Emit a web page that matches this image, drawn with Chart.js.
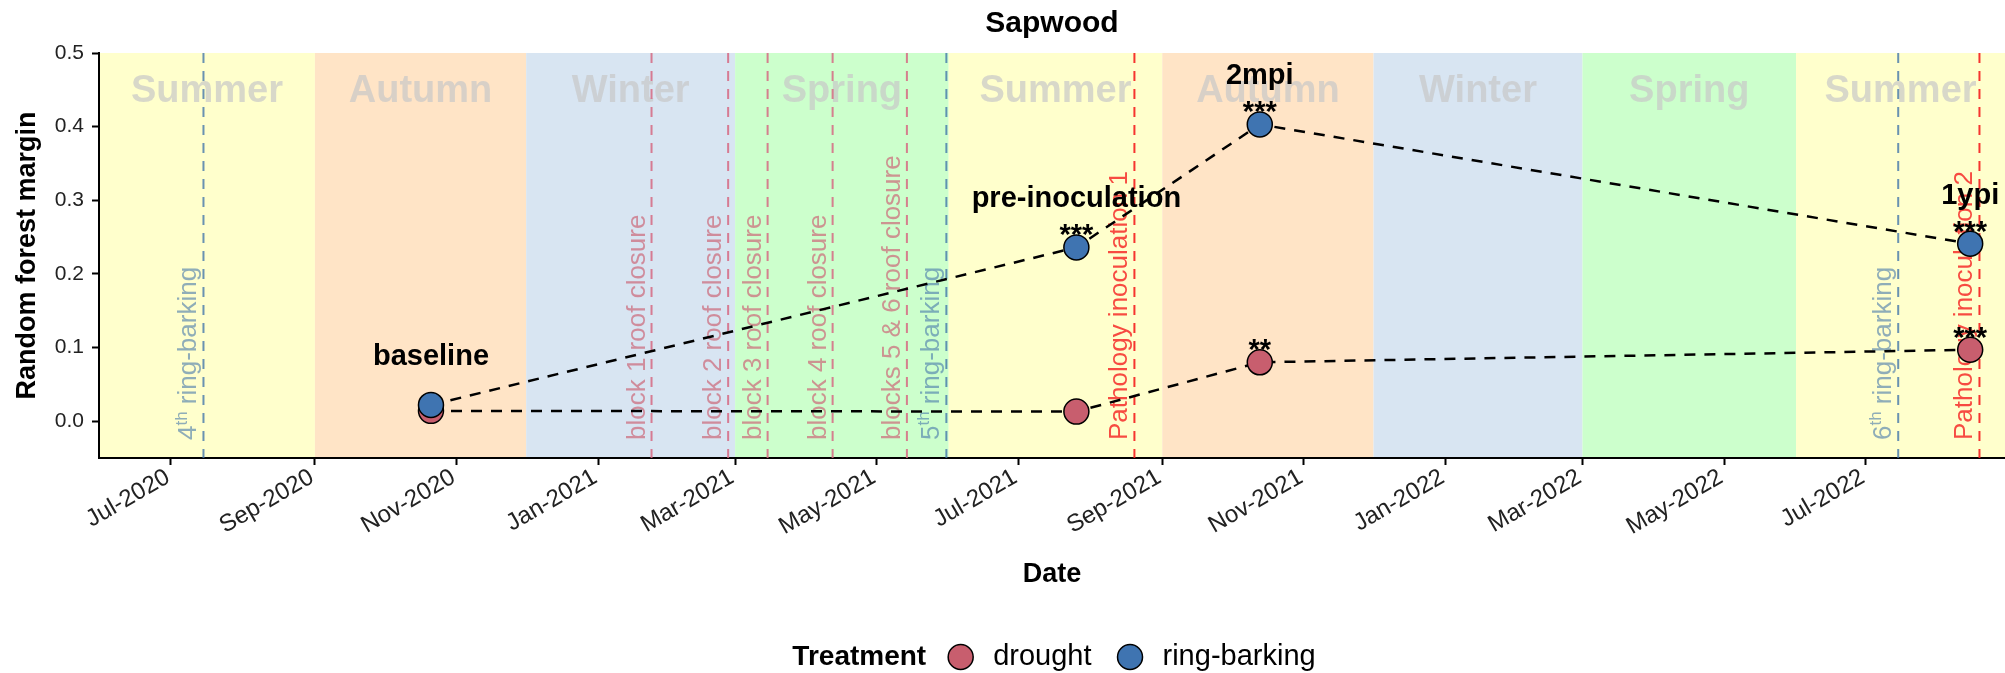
<!DOCTYPE html>
<html>
<head>
<meta charset="utf-8">
<title>Sapwood</title>
<script src="https://cdn.jsdelivr.net/npm/chart.js@4.4.1/dist/chart.umd.min.js"></script>
<style>
  html, body { margin: 0; padding: 0; background: #fff; overflow: hidden; }
  #chart { display: block; }
</style>
</head>
<body>
<canvas id="chart" width="2005" height="673"></canvas>
<script>
// sampling dates and the two treatment series
const timepoints = ['2020-10-21', '2021-07-26', '2021-10-13', '2022-08-15'];
const timepointLabels = ['baseline', 'pre-inoculation', '2mpi', '1ypi'];
const treatments = ['drought', 'ring-barking'];
const droughtMargin = [0.014, 0.013, 0.080, 0.097];
const ringBarkingMargin = [0.022, 0.236, 0.403, 0.241];
const droughtStars = ['', '', '**', '***'];
const ringBarkingStars = ['', '***', '***', '***'];

// seasons shaded behind the panel
const seasonNames = ['Summer', 'Autumn', 'Winter', 'Spring', 'Summer', 'Autumn', 'Winter', 'Spring', 'Summer'];
const seasonStarts = ['2020-06-01', '2020-09-01', '2020-12-01', '2021-03-01', '2021-06-01',
                      '2021-09-01', '2021-12-01', '2022-03-01', '2022-06-01'];

// experiment events (dashed vertical lines)
const eventDates = ['2020-07-15', '2021-01-24', '2021-02-26', '2021-03-15', '2021-04-12',
                    '2021-05-14', '2021-05-31', '2021-08-20', '2022-07-15', '2022-08-19'];
const eventLabels = ['4th ring-barking', 'block 1 roof closure', 'block 2 roof closure', 'block 3 roof closure',
                     'block 4 roof closure', 'blocks 5 & 6 roof closure', '5th ring-barking',
                     'Pathology inoculation 1', '6th ring-barking', 'Pathology inoculation 2'];
const eventKinds = ['ring', 'roof', 'roof', 'roof', 'roof', 'roof', 'ring', 'pathology', 'ring', 'pathology'];

// axes
const xRange = ['2020-05-31', '2022-08-30'];
const xTickDates = ['2020-07-01', '2020-09-01', '2020-11-01', '2021-01-01', '2021-03-01', '2021-05-01', '2021-07-01',
                    '2021-09-01', '2021-11-01', '2022-01-01', '2022-03-01', '2022-05-01', '2022-07-01'];
const monthNames = ['Jan', 'Feb', 'Mar', 'Apr', 'May', 'Jun', 'Jul', 'Aug', 'Sep', 'Oct', 'Nov', 'Dec'];
const yRange = [-0.05, 0.5];
const yTicks = [0, 0.1, 0.2, 0.3, 0.4, 0.5];

const FONT = "'Liberation Sans', Arial, Helvetica, sans-serif";
const day = s => Date.parse(s);

const seasonFill = { Summer: '#FFFFCC', Autumn: '#FFE4C6', Winter: '#D8E5F2', Spring: '#CCFFCC' };
const eventStyle = {
    ring: { line: 'rgba(68,119,170,0.8)', text: 'rgba(68,119,170,0.6)' },
    roof: { line: 'rgba(214,104,130,0.85)', text: 'rgba(204,102,119,0.7)' },
    pathology: { line: 'rgba(245,30,30,0.9)', text: 'rgba(245,30,30,0.8)' }
};
const pointFill = { 'drought': '#C85E6E', 'ring-barking': '#3F74B1' };

function fmtMonth(v) {
    const d = new Date(v);
    return monthNames[d.getUTCMonth()] + '-' + d.getUTCFullYear();
}

function series(values) {
    return timepoints.map((t, i) => ({ x: day(t), y: values[i] }));
}

// "4th ring-barking" -> superscript ordinal
function drawEventText(ctx, text, size) {
    const m = text.match(/^(\d+)(st|nd|rd|th)(.*)$/);
    ctx.font = size + 'px ' + FONT;
    if (!m) {
        ctx.fillText(text, 0, 0);
        return;
    }
    let x = 0;
    ctx.fillText(m[1], x, 0);
    x += ctx.measureText(m[1]).width;
    ctx.font = Math.round(size * 0.65) + 'px ' + FONT;
    ctx.fillText(m[2], x, -size * 0.38);
    x += ctx.measureText(m[2]).width;
    ctx.font = size + 'px ' + FONT;
    ctx.fillText(m[3], x, 0);
}

const seasonsPlugin = {
    id: 'seasons',
    beforeDraw(chart) {
        const { ctx, chartArea: a, scales: { x } } = chart;
        ctx.save();
        ctx.beginPath();
        ctx.rect(a.left, a.top, a.width, a.height);
        ctx.clip();
        seasonNames.forEach((name, i) => {
            const x0 = i === 0 ? a.left : x.getPixelForValue(day(seasonStarts[i]));
            const x1 = i === seasonNames.length - 1 ? a.right : x.getPixelForValue(day(seasonStarts[i + 1]));
            ctx.fillStyle = seasonFill[name];
            ctx.fillRect(x0, a.top, x1 - x0, a.height);
            ctx.fillStyle = 'rgba(200,200,200,0.7)';
            ctx.font = 'bold 38px ' + FONT;
            ctx.textAlign = 'center';
            ctx.textBaseline = 'middle';
            ctx.fillText(name, (Math.max(x0, a.left) + Math.min(x1, a.right)) / 2, a.top + 39);
        });
        ctx.restore();
    }
};

const eventsPlugin = {
    id: 'events',
    beforeDatasetsDraw(chart) {
        const { ctx, chartArea: a, scales: { x } } = chart;
        ctx.save();
        eventDates.forEach((d, i) => {
            const px = x.getPixelForValue(day(d));
            const st = eventStyle[eventKinds[i]];
            ctx.strokeStyle = st.line;
            ctx.lineWidth = 2;
            ctx.setLineDash([10, 8]);
            ctx.beginPath();
            ctx.moveTo(px, a.top);
            ctx.lineTo(px, a.bottom);
            ctx.stroke();

            ctx.save();
            ctx.translate(px - 7, a.bottom - 18);
            ctx.rotate(-Math.PI / 2);
            ctx.fillStyle = st.text;
            ctx.textAlign = 'left';
            ctx.textBaseline = 'alphabetic';
            drawEventText(ctx, eventLabels[i], 26);
            ctx.restore();
        });
        ctx.restore();
    }
};

const annotationsPlugin = {
    id: 'annotations',
    afterDatasetsDraw(chart) {
        const { ctx, chartArea: a, scales: { x, y } } = chart;
        ctx.save();
        ctx.fillStyle = '#000';
        ctx.textAlign = 'center';
        timepoints.forEach((t, i) => {
            const px = x.getPixelForValue(day(t));
            const pyRing = y.getPixelForValue(ringBarkingMargin[i]);
            const pyDrought = y.getPixelForValue(droughtMargin[i]);
            ctx.font = 'bold 29px ' + FONT;
            ctx.textBaseline = 'middle';
            ctx.fillText(timepointLabels[i], px, pyRing - 48);
            ctx.textBaseline = 'alphabetic';
            if (ringBarkingStars[i]) ctx.fillText(ringBarkingStars[i], px, pyRing - 3);
            if (droughtStars[i]) ctx.fillText(droughtStars[i], px, pyDrought - 3);
        });

        // title
        ctx.font = 'bold 30px ' + FONT;
        ctx.textBaseline = 'middle';
        ctx.fillText('Sapwood', (a.left + a.right) / 2, 24);
        ctx.restore();
    }
};

const legendPlugin = {
    id: 'treatmentLegend',
    afterDraw(chart) {
        const { ctx, chartArea: a } = chart;
        const yc = chart.height - 16;
        const r = 12.5;
        ctx.save();
        ctx.textBaseline = 'middle';
        ctx.textAlign = 'left';
        ctx.font = 'bold 28px ' + FONT;
        const titleW = ctx.measureText('Treatment').width;
        ctx.font = '29px ' + FONT;
        const labelW = treatments.map(t => ctx.measureText(t).width);
        const total = titleW + 22 + treatments.length * (2 * r + 20) + labelW[0] + 26 + labelW[1];
        let cx = (a.left + a.right) / 2 - total / 2 + 2;

        ctx.fillStyle = '#000';
        ctx.font = 'bold 28px ' + FONT;
        ctx.fillText('Treatment', cx, yc);
        cx += titleW + 22;
        treatments.forEach((t, i) => {
            ctx.beginPath();
            ctx.arc(cx + r, yc, r, 0, Math.PI * 2);
            ctx.fillStyle = pointFill[t];
            ctx.fill();
            ctx.lineWidth = 1.5;
            ctx.strokeStyle = '#000';
            ctx.stroke();
            cx += 2 * r + 20;
            ctx.fillStyle = '#000';
            ctx.font = '29px ' + FONT;
            ctx.fillText(t, cx, yc);
            cx += labelW[i] + 26;
        });
        ctx.restore();
    }
};

Chart.defaults.font.family = FONT;
Chart.defaults.color = '#000';

const axisGrid = { drawOnChartArea: false, drawTicks: true, tickLength: 7, tickColor: '#000', tickWidth: 2 };
const axisBorder = { color: '#000', width: 2 };

new Chart(document.getElementById('chart').getContext('2d'), {
    type: 'line',
    data: {
        datasets: [
            {
                label: treatments[0],
                data: series(droughtMargin),
                order: 2,
                borderColor: '#000',
                borderWidth: 2.5,
                borderDash: [11, 9],
                pointRadius: 12.5,
                pointBackgroundColor: pointFill['drought'],
                pointBorderColor: '#000',
                pointBorderWidth: 1.5,
                fill: false,
                tension: 0
            },
            {
                label: treatments[1],
                data: series(ringBarkingMargin),
                order: 1,
                borderColor: '#000',
                borderWidth: 2.5,
                borderDash: [11, 9],
                pointRadius: 12.5,
                pointBackgroundColor: pointFill['ring-barking'],
                pointBorderColor: '#000',
                pointBorderWidth: 1.5,
                fill: false,
                tension: 0
            }
        ]
    },
    options: {
        responsive: false,
        animation: false,
        devicePixelRatio: 1,
        layout: { autoPadding: false, padding: { top: 53, right: 0, bottom: 0, left: 0 } },
        plugins: {
            legend: { display: false },
            tooltip: { enabled: false },
            title: { display: false }
        },
        scales: {
            x: {
                type: 'linear',
                min: day(xRange[0]),
                max: day(xRange[1]),
                afterBuildTicks: s => { s.ticks = xTickDates.map(d => ({ value: day(d) })); },
                afterFit: s => { s.height = 215; },
                ticks: {
                    autoSkip: false,
                    minRotation: 30,
                    maxRotation: 30,
                    padding: -2,
                    labelOffset: -3,
                    color: '#222',
                    font: { size: 24 },
                    callback: v => fmtMonth(v)
                },
                grid: axisGrid,
                border: axisBorder,
                title: {
                    display: true,
                    text: 'Date',
                    color: '#000',
                    font: { size: 27, weight: 'bold' },
                    padding: { top: 0, bottom: 82 }
                }
            },
            y: {
                min: yRange[0],
                max: yRange[1],
                afterBuildTicks: s => { s.ticks = yTicks.map(v => ({ value: v })); },
                afterFit: s => { s.width = 99; },
                ticks: {
                    padding: 8,
                    color: '#222',
                    font: { size: 21 },
                    callback: v => v.toFixed(1)
                },
                grid: axisGrid,
                border: axisBorder,
                title: {
                    display: true,
                    text: 'Random forest margin',
                    color: '#000',
                    font: { size: 27, weight: 'bold' },
                    padding: { top: 11, bottom: 0 }
                }
            }
        }
    },
    plugins: [seasonsPlugin, eventsPlugin, annotationsPlugin, legendPlugin]
});
</script>
</body>
</html>
